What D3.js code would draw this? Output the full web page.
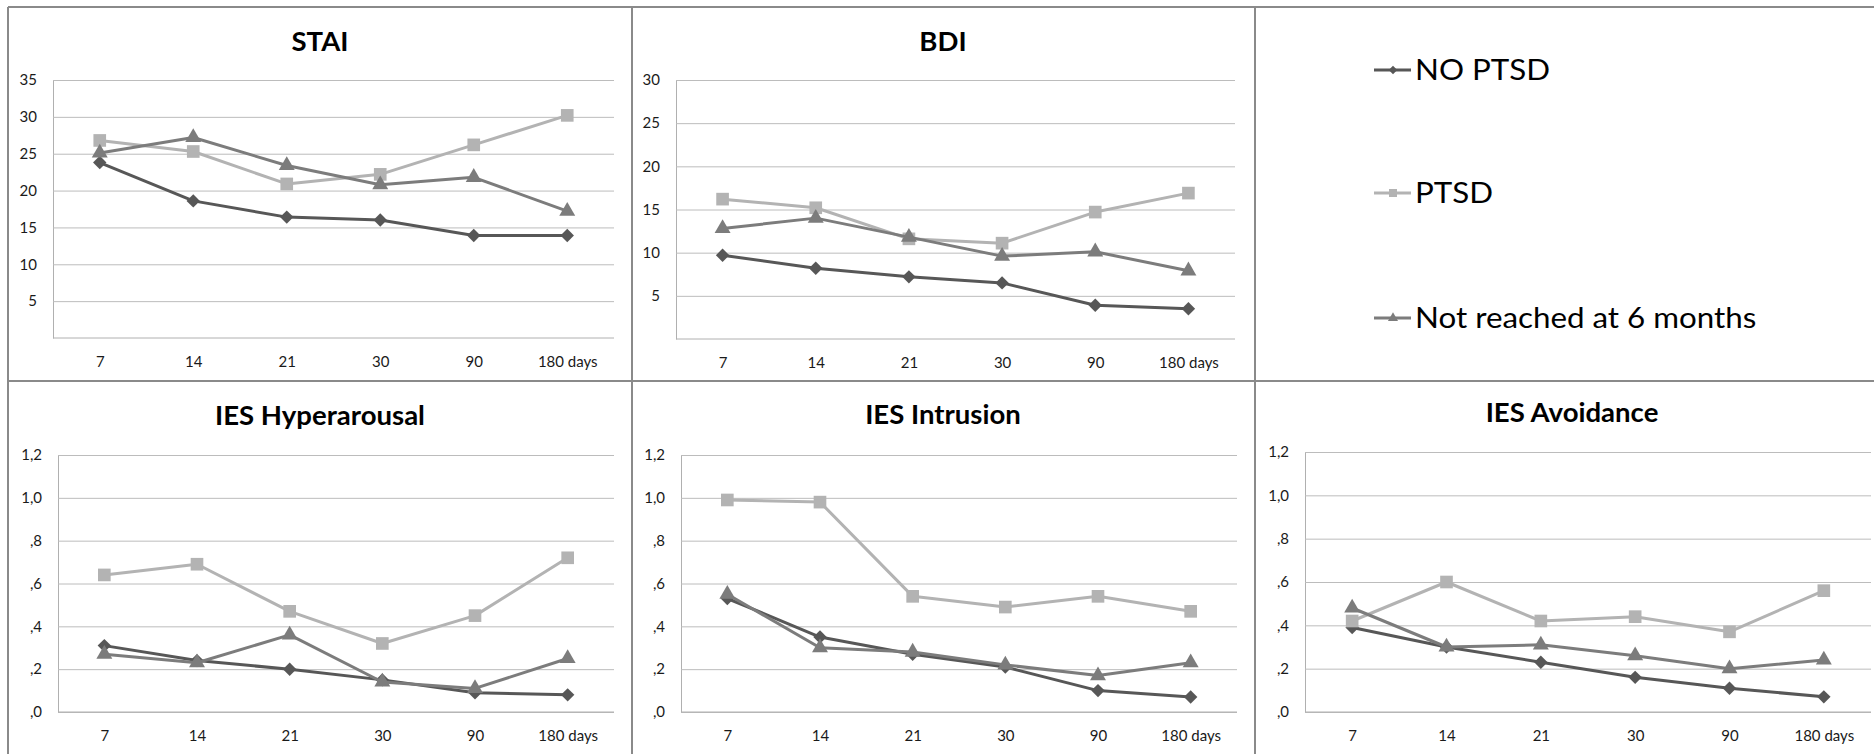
<!DOCTYPE html>
<html>
<head>
<meta charset="utf-8">
<script src="https://cdn.jsdelivr.net/npm/d3@7"></script>
<style>
  body { margin: 0; background: #fff; }
  svg { display: block; font-family: Lato, "Open Sans", sans-serif; }
</style>
</head>
<body>
<div id="chart"></div>
<script>
// categories + series
const days = ["7", "14", "21", "30", "90", "180 days"];
const seriesNames = ["NO PTSD", "PTSD", "Not reached at 6 months"];

// STAI
const staiNoPtsd = [23.8, 18.6, 16.4, 16.0, 13.9, 13.9];
const staiPtsd = [26.8, 25.3, 20.9, 22.2, 26.2, 30.2];
const staiNotReached = [25.1, 27.2, 23.4, 20.8, 21.8, 17.2];

// BDI
const bdiNoPtsd = [9.7, 8.2, 7.2, 6.5, 3.9, 3.5];
const bdiPtsd = [16.2, 15.2, 11.6, 11.1, 14.7, 16.9];
const bdiNotReached = [12.8, 14.0, 11.8, 9.6, 10.1, 7.9];

// IES subscales
const hyperNoPtsd = [0.31, 0.24, 0.20, 0.15, 0.09, 0.08];
const hyperPtsd = [0.64, 0.69, 0.47, 0.32, 0.45, 0.72];
const hyperNotReached = [0.27, 0.23, 0.36, 0.14, 0.11, 0.25];

const intrNoPtsd = [0.53, 0.35, 0.27, 0.21, 0.10, 0.07];
const intrPtsd = [0.99, 0.98, 0.54, 0.49, 0.54, 0.47];
const intrNotReached = [0.55, 0.30, 0.28, 0.22, 0.17, 0.23];

const avoidNoPtsd = [0.39, 0.30, 0.23, 0.16, 0.11, 0.07];
const avoidPtsd = [0.42, 0.60, 0.42, 0.44, 0.37, 0.56];
const avoidNotReached = [0.48, 0.30, 0.31, 0.26, 0.20, 0.24];

// y ticks
const staiTicks = [5, 10, 15, 20, 25, 30, 35];
const bdiTicks = [5, 10, 15, 20, 25, 30];
const iesTicks = [0, 0.2, 0.4, 0.6, 0.8, 1.0, 1.2];
const iesTickLabels = [",0", ",2", ",4", ",6", ",8", "1,0", "1,2"];

const W = 1874, H = 754;
const colors = ["#575757", "#b3b3b3", "#7c7c7c"];
const symbols = [d3.symbolSquare, d3.symbolSquare, d3.symbolTriangle];
const symSize = [90, 160, 110];
const symRot = [45, 0, 0];

const svg = d3.select("#chart").append("svg")
  .attr("width", W).attr("height", H);

// panel frame
const frame = svg.append("g").attr("stroke", "#8a8a8a").attr("stroke-width", 2);
frame.append("line").attr("x1", 8).attr("x2", W).attr("y1", 7).attr("y2", 7);
frame.append("line").attr("x1", 8).attr("x2", W).attr("y1", 381).attr("y2", 381);
[8, 632, 1255].forEach(x => {
  frame.append("line").attr("x1", x).attr("x2", x).attr("y1", 7).attr("y2", H);
});

const panels = [
  {title: "STAI", cx: 320, ty: 42, l: 53, r: 614, t: 80, b: 338, max: 35,
   ticks: staiTicks, fmt: d => d, data: [staiNoPtsd, staiPtsd, staiNotReached]},
  {title: "BDI", cx: 943, ty: 42, l: 676, r: 1235, t: 80, b: 339, max: 30,
   ticks: bdiTicks, fmt: d => d, data: [bdiNoPtsd, bdiPtsd, bdiNotReached]},
  {title: "IES Hyperarousal", cx: 320, ty: 416, l: 58, r: 614, t: 455, b: 712, max: 1.2,
   ticks: iesTicks, fmt: (d, i) => iesTickLabels[i], data: [hyperNoPtsd, hyperPtsd, hyperNotReached]},
  {title: "IES Intrusion", cx: 943, ty: 415, l: 681, r: 1237, t: 455, b: 712, max: 1.2,
   ticks: iesTicks, fmt: (d, i) => iesTickLabels[i], data: [intrNoPtsd, intrPtsd, intrNotReached]},
  {title: "IES Avoidance", cx: 1572, ty: 413, l: 1305, r: 1871, t: 452, b: 712, max: 1.2,
   ticks: iesTicks, fmt: (d, i) => iesTickLabels[i], data: [avoidNoPtsd, avoidPtsd, avoidNotReached]}
];

panels.forEach(p => {
  const x = d3.scalePoint().domain(days).range([p.l, p.r]).padding(0.5);
  const y = d3.scaleLinear().domain([0, p.max]).range([p.b, p.t]);
  const g = svg.append("g");

  g.append("text")
    .attr("transform", `translate(${p.cx},${p.ty}) scale(1.06,1)`)
    .attr("dy", "0.36em")
    .attr("text-anchor", "middle")
    .style("font-size", "26px").style("font-weight", "bold")
    .text(p.title);

  const ya = g.append("g").attr("transform", `translate(${p.l},0)`)
    .attr("font-family", null)
    .call(d3.axisLeft(y).tickValues(p.ticks).tickSize(-(p.r - p.l)).tickSizeOuter(0)
      .tickPadding(16).tickFormat(p.fmt));
  ya.attr("font-family", null);
  ya.selectAll(".tick line").attr("stroke", "#bcbcbc");
  ya.select(".domain").attr("stroke", "#b0b0b0");
  ya.selectAll("text").style("font-size", "15px").attr("fill", "#1a1a1a");

  const xa = g.append("g").attr("transform", `translate(0,${p.b})`)
    .call(d3.axisBottom(x).tickSize(0).tickSizeOuter(0).tickPadding(18));
  xa.attr("font-family", null);
  xa.select(".domain").attr("stroke", "#b0b0b0").attr("d", `M${p.l},0H${p.r}`);
  xa.selectAll("text").style("font-size", "15px").attr("fill", "#1a1a1a");

  const line = d3.line().x((v, i) => x(days[i])).y(v => y(v));

  p.data.forEach((vals, s) => {
    g.append("path").datum(vals)
      .attr("d", line).attr("fill", "none")
      .attr("stroke", colors[s]).attr("stroke-width", 3)
      .attr("stroke-linejoin", "round");
    g.selectAll(null).data(vals).enter().append("path")
      .attr("d", d3.symbol(symbols[s], symSize[s]))
      .attr("transform", (v, i) => `translate(${x(days[i])},${y(v)}) rotate(${symRot[s]})`)
      .attr("fill", colors[s]);
  });
});

// legend
const legY = [70, 193, 318];
const leg = svg.append("g");
seriesNames.forEach((name, s) => {
  leg.append("line")
    .attr("x1", 1374).attr("x2", 1411).attr("y1", legY[s]).attr("y2", legY[s])
    .attr("stroke", colors[s]).attr("stroke-width", 3);
  leg.append("path")
    .attr("d", d3.symbol(symbols[s], symSize[s] * 0.4))
    .attr("transform", `translate(1393,${legY[s]}) rotate(${symRot[s]})`)
    .attr("fill", colors[s]);
  leg.append("text")
    .attr("transform", `translate(1415,${legY[s]}) scale(1.08,1)`)
    .attr("dy", "0.36em")
    .style("font-size", "29px").attr("fill", "#000")
    .text(name);
});
</script>
</body>
</html>
